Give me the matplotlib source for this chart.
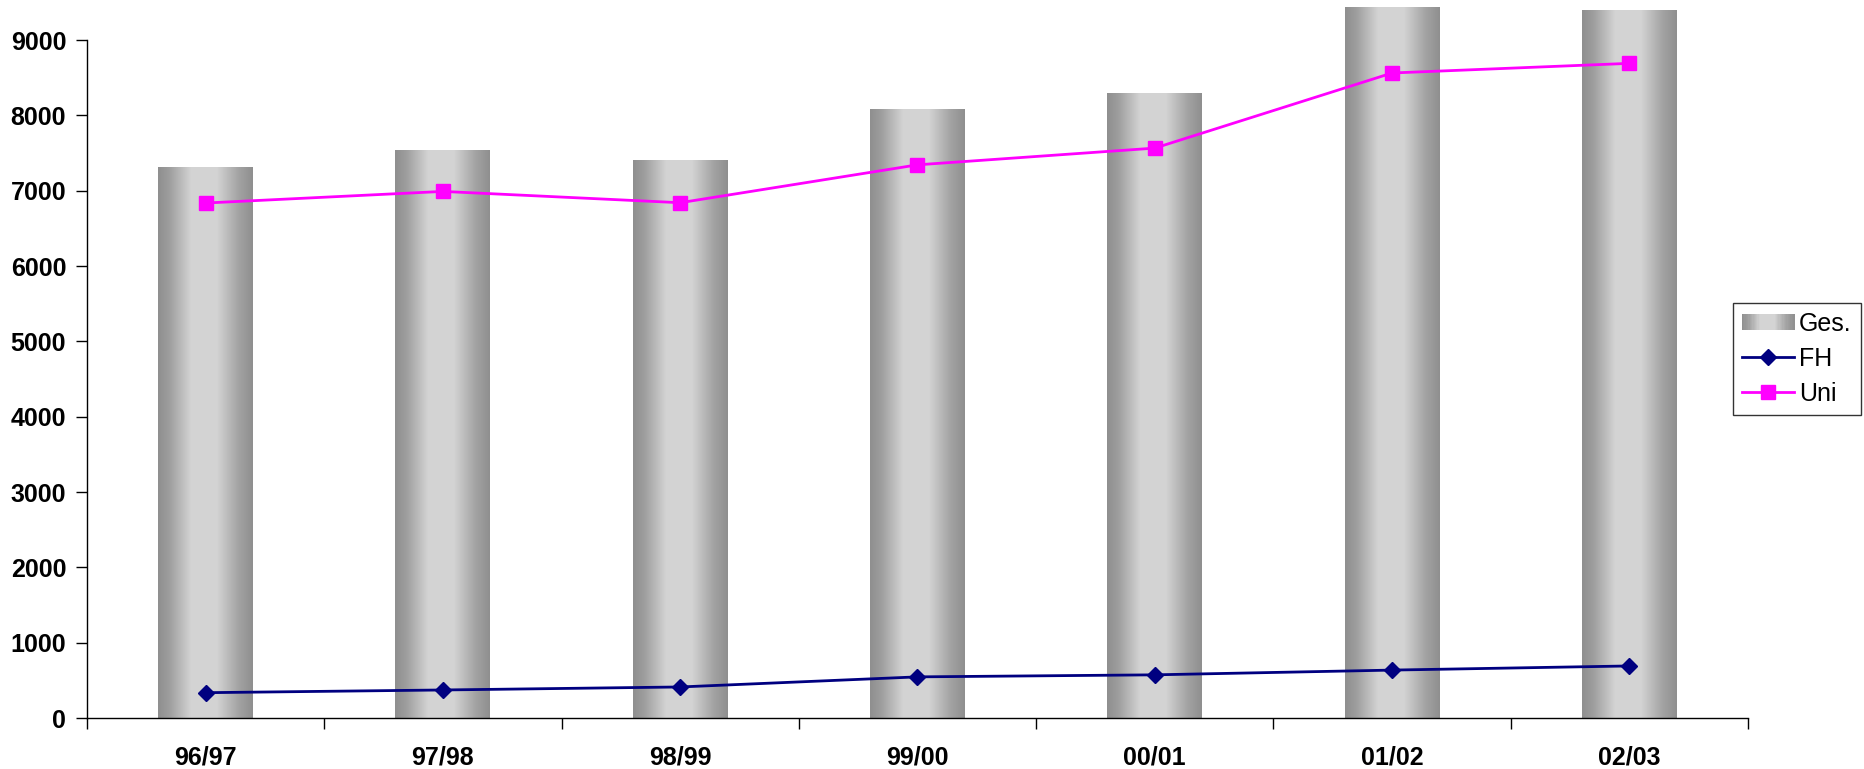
import numpy as np
import matplotlib
matplotlib.use("Agg")
import matplotlib.pyplot as plt
from matplotlib.patches import Rectangle
from matplotlib.lines import Line2D
from matplotlib.legend_handler import HandlerBase

# data
semester = ["96/97", "97/98", "98/99", "99/00", "00/01", "01/02", "02/03"]
ges = [7314, 7527, 7405, 8082, 8284, 9425, 9398]
uni = [6836, 6990, 6840, 7343, 7565, 8562, 8690]
fh = [336, 372, 412, 546, 573, 636, 691]
yticks = [0, 1000, 2000, 3000, 4000, 5000, 6000, 7000, 8000, 9000]

plt.rcParams['font.family'] = ['Liberation Sans', 'DejaVu Sans']

# horizontal grey gradient, dark at edges, light in the middle
grad_pos = [0.0, 0.12, 0.35, 0.62, 0.85, 1.0]
grad_val = [0.56, 0.62, 0.83, 0.83, 0.64, 0.56]
xs = np.linspace(0, 1, 200)
shade = np.interp(xs, grad_pos, grad_val)
grad_img = np.dstack([shade, shade, shade]).repeat(2, axis=0)

fig = plt.figure(figsize=(18.65, 7.69), dpi=100)
ax = fig.add_axes([87/1865, 1 - 718/769, (1748-87)/1865, (718-40)/769])

x = np.arange(len(semester))
bars = ax.bar(x, ges, width=0.4, color='none', edgecolor='none', zorder=1)
for b in bars:
    x0, y0 = b.get_x(), b.get_y()
    ax.imshow(grad_img, extent=[x0, x0 + b.get_width(), y0, y0 + b.get_height()],
              aspect='auto', interpolation='bilinear', zorder=1, clip_on=False)

ax.plot(x, fh, color='#000080', lw=2, marker='D', ms=8, zorder=3, clip_on=False)
ax.plot(x, uni, color='#FF00FF', lw=2, marker='s', ms=10.5, zorder=3, clip_on=False)

ax.set_xlim(-0.5, len(semester) - 0.5)
ax.set_ylim(0, 9000)
ax.set_yticks(yticks)
ax.set_yticklabels([str(v) for v in yticks], fontsize=18, fontweight='bold')
ax.set_xticks(x)
ax.set_xticklabels(semester, fontsize=18, fontweight='bold')
ax.set_xticks(np.arange(-0.5, len(semester)), minor=True)
ax.tick_params(axis='x', which='major', length=0, pad=20)
ax.tick_params(axis='x', which='minor', length=8, width=1, direction='out')
ax.tick_params(axis='y', length=8, width=1, direction='out', pad=7)
for s in ['top', 'right']:
    ax.spines[s].set_visible(False)
ax.spines['left'].set_linewidth(1)
ax.spines['bottom'].set_linewidth(1)


class GradientHandler(HandlerBase):
    def create_artists(self, legend, orig, xdescent, ydescent, width, height, fontsize, trans):
        n = 40
        arts = []
        for i in range(n):
            v = np.interp((i + 0.5) / n, grad_pos, grad_val)
            r = Rectangle((-xdescent + width * i / n, -ydescent + height * 0.1),
                          width / n + 0.3, height * 0.8, facecolor=(v, v, v),
                          edgecolor='none', transform=trans)
            arts.append(r)
        return arts


ges_handle = Rectangle((0, 0), 1, 1)
fh_handle = Line2D([], [], color='#000080', lw=2, marker='D', ms=8)
uni_handle = Line2D([], [], color='#FF00FF', lw=2, marker='s', ms=10.5)
leg = fig.legend([ges_handle, fh_handle, uni_handle], ["Ges.", "FH", "Uni"],
                 handler_map={Rectangle: GradientHandler()},
                 loc='upper left', bbox_to_anchor=(1733/1865, 1 - 303/769),
                 fontsize=18, frameon=True, fancybox=False, handlelength=2.1,
                 handletextpad=0.2, labelspacing=0.45, borderpad=0.35,
                 borderaxespad=0, handleheight=0.9)
leg.get_frame().set_edgecolor('black')
leg.get_frame().set_linewidth(1)

fig.savefig("out.png", dpi=100)
